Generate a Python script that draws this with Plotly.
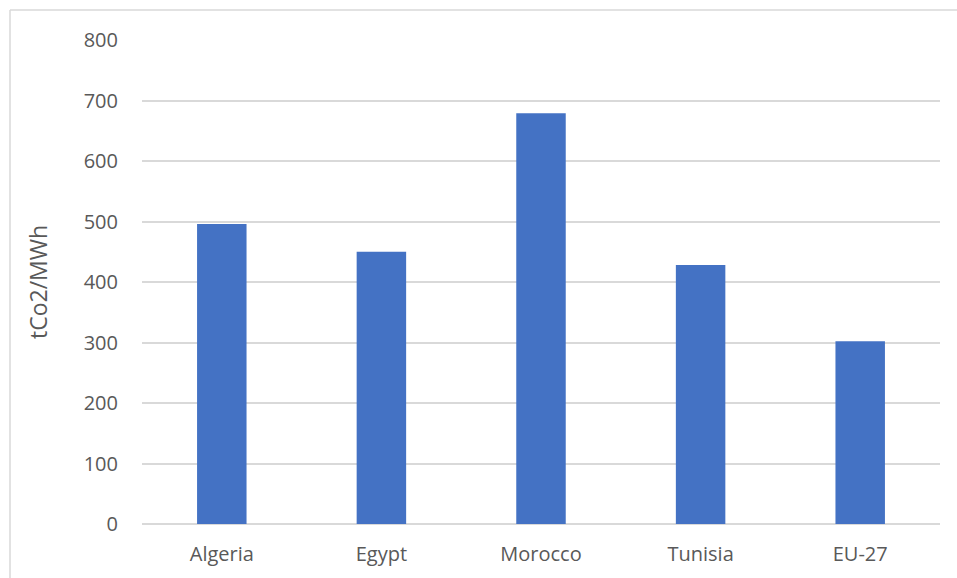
import plotly.graph_objects as go

# Grid emission intensity by country
countries = ["Algeria", "Egypt", "Morocco", "Tunisia", "EU-27"]
intensity = [496, 450, 679, 428, 302]
y_ticks = [0, 100, 200, 300, 400, 500, 600, 700, 800]

W, H = 957, 578
L, R, T, B = 142, 17, 40, 54
pw, ph = W - L - R, H - T - B

font_family = "'Open Sans', sans-serif"
text_color = "#595959"
grid_color = "#d9d9d9"

fig = go.Figure(
    go.Bar(
        x=countries,
        y=intensity,
        marker=dict(color="#4472c4", line=dict(width=0)),
        width=0.31,
    )
)

fig.update_layout(
    width=W,
    height=H,
    margin=dict(l=L, r=R, t=T, b=B),
    paper_bgcolor="white",
    plot_bgcolor="white",
    showlegend=False,
    font=dict(family=font_family, size=20, color=text_color),
    xaxis=dict(
        showgrid=False,
        showline=False,
        zeroline=False,
        ticks="",
        ticklabelstandoff=16,
        tickfont=dict(size=20, color=text_color),
    ),
    yaxis=dict(
        range=[0, 800],
        tickvals=y_ticks,
        showgrid=True,
        gridcolor=grid_color,
        gridwidth=1.5,
        zeroline=True,
        zerolinecolor=grid_color,
        zerolinewidth=1.5,
        showline=False,
        ticks="",
        ticklabelstandoff=23,
        tickfont=dict(size=20, color=text_color),
    ),
    annotations=[
        dict(
            text="tCo2/MWh",
            textangle=-90,
            xref="paper",
            yref="paper",
            x=(38 - L) / pw,
            y=(H - B - 282) / ph,
            xanchor="center",
            yanchor="middle",
            showarrow=False,
            font=dict(size=23, color=text_color, family=font_family),
        )
    ],
    shapes=[
        # chart-area frame (left and top edges)
        dict(
            type="line", xref="paper", yref="paper",
            x0=(10 - L) / pw, x1=(10 - L) / pw,
            y0=(H - B - 600) / ph, y1=(H - B - 10) / ph,
            line=dict(color="#d9d9d9", width=1.5),
        ),
        dict(
            type="line", xref="paper", yref="paper",
            x0=(10 - L) / pw, x1=(980 - L) / pw,
            y0=(H - B - 10) / ph, y1=(H - B - 10) / ph,
            line=dict(color="#d9d9d9", width=1.5),
        ),
    ],
)

fig.write_html("out.html")
